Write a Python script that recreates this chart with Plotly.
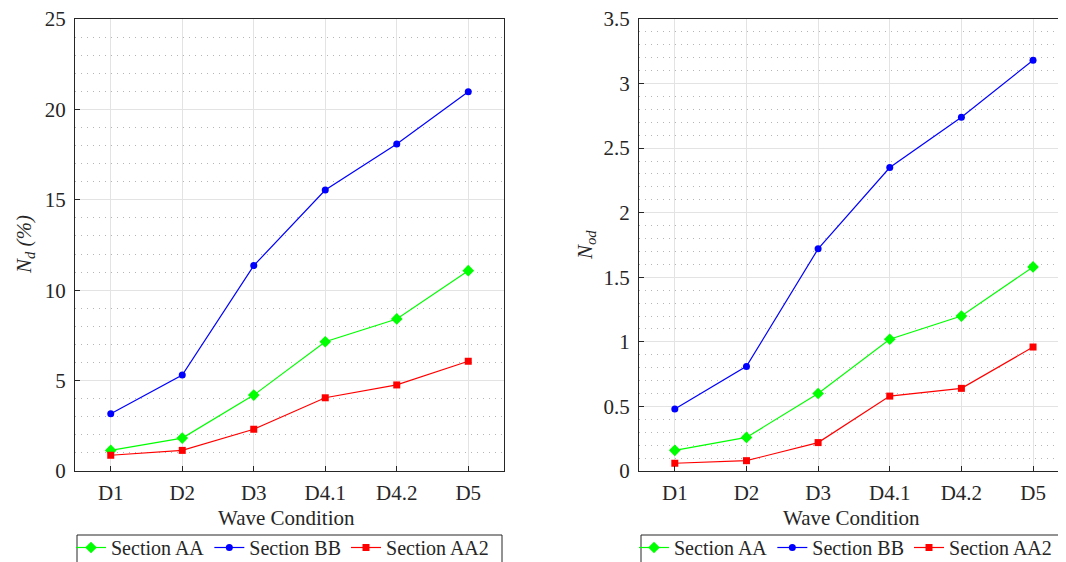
import plotly.graph_objects as go

categories = ["D1", "D2", "D3", "D4.1", "D4.2", "D5"]

# Left panel: N_d (%)
nd_aa = [1.14, 1.82, 4.2, 7.15, 8.41, 11.08]
nd_bb = [3.17, 5.31, 11.36, 15.54, 18.09, 20.98]
nd_aa2 = [0.87, 1.14, 2.31, 4.05, 4.76, 6.07]

# Right panel: N_od
nod_aa = [0.16, 0.26, 0.60, 1.02, 1.20, 1.58]
nod_bb = [0.48, 0.81, 1.72, 2.35, 2.74, 3.18]
nod_aa2 = [0.06, 0.08, 0.22, 0.58, 0.64, 0.96]

series_names = ["Section AA", "Section BB", "Section AA2"]

OFF = 8  # page body margin
W, H = 1066 - OFF, 562 - OFF
FONT = "Liberation Serif, Times New Roman, DejaVu Serif, serif"
TXT = "#262626"
colors = ["#00ff00", "#0000ff", "#ff0000"]
symbols = ["diamond", "circle", "square"]
msizes = [9, 7, 7]

fig = go.Figure()

left = [nd_aa, nd_bb, nd_aa2]
right = [nod_aa, nod_bb, nod_aa2]
for i, name in enumerate(series_names):
    fig.add_trace(go.Scatter(
        x=categories, y=left[i], name=name, mode="lines+markers",
        line=dict(color=colors[i], width=1.2),
        marker=dict(symbol=symbols[i], size=msizes[i], color=colors[i]),
        xaxis="x", yaxis="y", legend="legend"))
for i, name in enumerate(series_names):
    fig.add_trace(go.Scatter(
        x=categories, y=right[i], name=name, mode="lines+markers",
        line=dict(color=colors[i], width=1.2),
        marker=dict(symbol=symbols[i], size=msizes[i], color=colors[i]),
        xaxis="x2", yaxis="y2", legend="legend2"))

def px_x(p):
    return (p - OFF) / W

def px_y(p):
    return 1 - (p - OFF) / H

xcommon = dict(
    type="category", showline=True, mirror=True, linecolor=TXT, linewidth=1,
    ticks="inside", ticklen=5, tickcolor=TXT, showgrid=True,
    gridcolor="#e3e3e3", gridwidth=1, zeroline=False,
    tickfont=dict(family=FONT, size=21, color=TXT), automargin=False,
    ticklabelstandoff=3, ticklabeloverflow="allow",
)
ycommon = dict(
    showline=True, mirror=True, linecolor=TXT, linewidth=1,
    ticks="inside", ticklen=5, tickcolor=TXT, showgrid=True,
    gridcolor="#e3e3e3", gridwidth=1, zeroline=False,
    tickfont=dict(family=FONT, size=21, color=TXT), automargin=False,
    ticklabelstandoff=4, ticklabeloverflow="allow",
)
minor_common = dict(showgrid=True, gridcolor="#b5b5b5", griddash="1px,5px", gridwidth=1)

top_px, bot_px = 19, 471
ydom = [px_y(bot_px), px_y(top_px)]

legend_common = dict(orientation="h", xanchor="left", yanchor="top",
                     borderwidth=0, bgcolor="rgba(0,0,0,0)",
                     font=dict(family=FONT, size=20, color=TXT), itemwidth=30,
                     tracegroupgap=0)

legend_box = dict(type="rect", xref="paper", yref="paper",
                  line=dict(color=TXT, width=1), fillcolor="white", layer="below")

fig.update_layout(
    width=W, height=H,
    margin=dict(l=0, r=0, t=0, b=0, autoexpand=False),
    paper_bgcolor="white", plot_bgcolor="white",
    font=dict(family=FONT, size=21, color=TXT),
    xaxis=dict(domain=[px_x(75), px_x(504)], range=[-0.5, 5.5], anchor="y", **xcommon),
    yaxis=dict(domain=ydom, range=[0, 25], dtick=5, anchor="x",
               minor=dict(dtick=1, **minor_common), **ycommon),
    xaxis2=dict(domain=[px_x(639), 1.0], range=[-0.5, 5.46], anchor="y2", **xcommon),
    yaxis2=dict(domain=ydom, range=[0, 3.5], dtick=0.5, anchor="x2",
                minor=dict(dtick=0.1, **minor_common), **ycommon),
    legend=dict(x=px_x(71), y=px_y(528), **legend_common),
    legend2=dict(x=px_x(634), y=px_y(528), **legend_common),
    shapes=[
        dict(x0=px_x(77), x1=px_x(502), y0=px_y(535), y1=px_y(580), **legend_box),
        dict(x0=px_x(641), x1=px_x(1080), y0=px_y(535), y1=px_y(580), **legend_box),
    ],
    annotations=[
        dict(text="<i>N<sub>d</sub> (%)</i>", x=px_x(25), y=px_y(245), xref="paper", yref="paper",
             textangle=-90, showarrow=False, xanchor="center", yanchor="middle",
             font=dict(family=FONT, size=21, color=TXT)),
        dict(text="<i>N<sub>od</sub></i>", x=px_x(586), y=px_y(245), xref="paper", yref="paper",
             textangle=-90, showarrow=False, xanchor="center", yanchor="middle",
             font=dict(family=FONT, size=21, color=TXT)),
        dict(text="Wave Condition", x=px_x(286), y=px_y(518), xref="paper", yref="paper",
             showarrow=False, xanchor="center", yanchor="middle",
             font=dict(family=FONT, size=21, color=TXT)),
        dict(text="Wave Condition", x=px_x(851), y=px_y(518), xref="paper", yref="paper",
             showarrow=False, xanchor="center", yanchor="middle",
             font=dict(family=FONT, size=21, color=TXT)),
    ],
)

fig.write_html("out.html")
